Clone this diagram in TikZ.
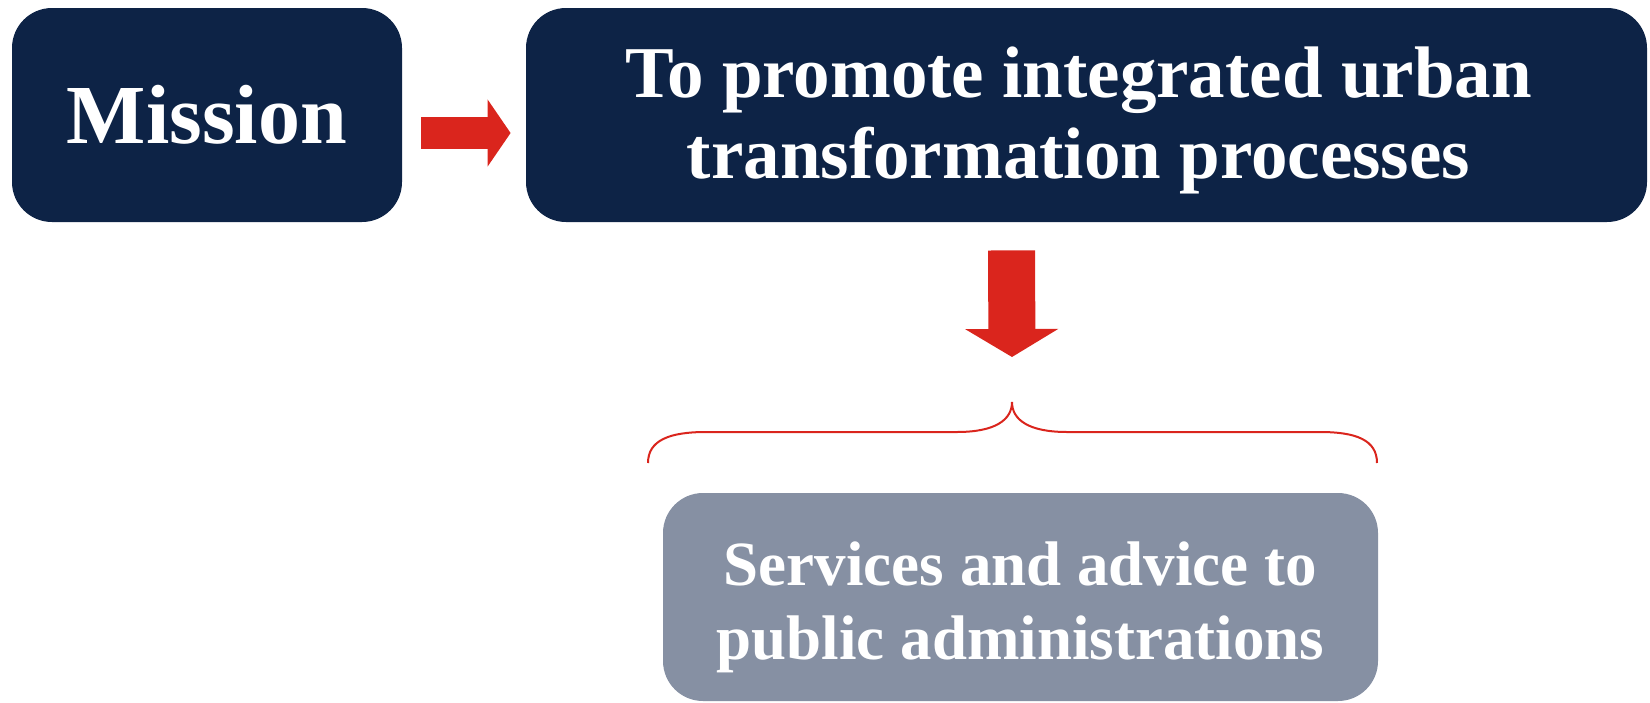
\documentclass[tikz,border=0pt]{standalone}
\usepackage{fontspec}
\setmainfont{Liberation Serif}
\usetikzlibrary{arrows.meta,calc}
\definecolor{navy}{HTML}{0D2346}
\definecolor{slate}{HTML}{8690A3}
\definecolor{accent}{HTML}{DA251D}
\tikzset{
  darkbox/.style={fill=navy, rounded corners=20pt, text=white, inner sep=0pt, align=center, font=\bfseries},
  greybox/.style={fill=slate, rounded corners=20pt, text=white, inner sep=0pt, align=center, font=\bfseries},
  boxtext/.style={text=white, align=center, inner sep=0pt},
  blockarrow/.style={draw=accent, line width=#1},
  bracestyle/.style={draw=accent, line width=1pt}
}
\begin{document}
\begin{tikzpicture}[x=0.5pt,y=-0.5pt]
\useasboundingbox (0,0) rectangle (1650,702);
\node[darkbox, minimum width=195pt, minimum height=107pt, font=\bfseries\fontsize{42}{46}\selectfont] (mission) at (207,115) {Mission};
\node[darkbox, minimum width=560.5pt, minimum height=107pt] (goal) at (1086.5,115) {};
\node[boxtext, font=\bfseries\fontsize{36.5}{40.5}\selectfont] (goaltext) at ($(goal.center)+(-8,5)$) {To promote integrated urban\\transformation processes};
\node[greybox, minimum width=357.5pt, minimum height=104pt] (service) at (1020.5,597) {};
\node[boxtext, font=\bfseries\fontsize{31.5}{37}\selectfont] (servicetext) at ($(service.center)+(0,10)$) {Services and advice to\\public administrations};
\coordinate (bracetip) at (1012,402);
\draw[blockarrow=16pt, -{Triangle[length=11.5pt,width=33pt]}] ($(mission.east)+(19,18)$) -- ($(goal.west)+(-15,18)$);
\draw[blockarrow=23.5pt, -{Triangle[length=14pt,width=46pt]}] ($(goal.south)+(-75,28)$) -- ($(bracetip)+(0,-45)$);
\draw[bracestyle] (648,463) .. controls (648,440) and (670,432) .. (706,432) -- (957,432) .. controls (995,432) and (1012,420) .. (bracetip) .. controls (1012,420) and (1029,432) .. (1067,432) -- (1320,432) .. controls (1356,432) and (1377,440) .. (1377,463);
\end{tikzpicture}
\end{document}
